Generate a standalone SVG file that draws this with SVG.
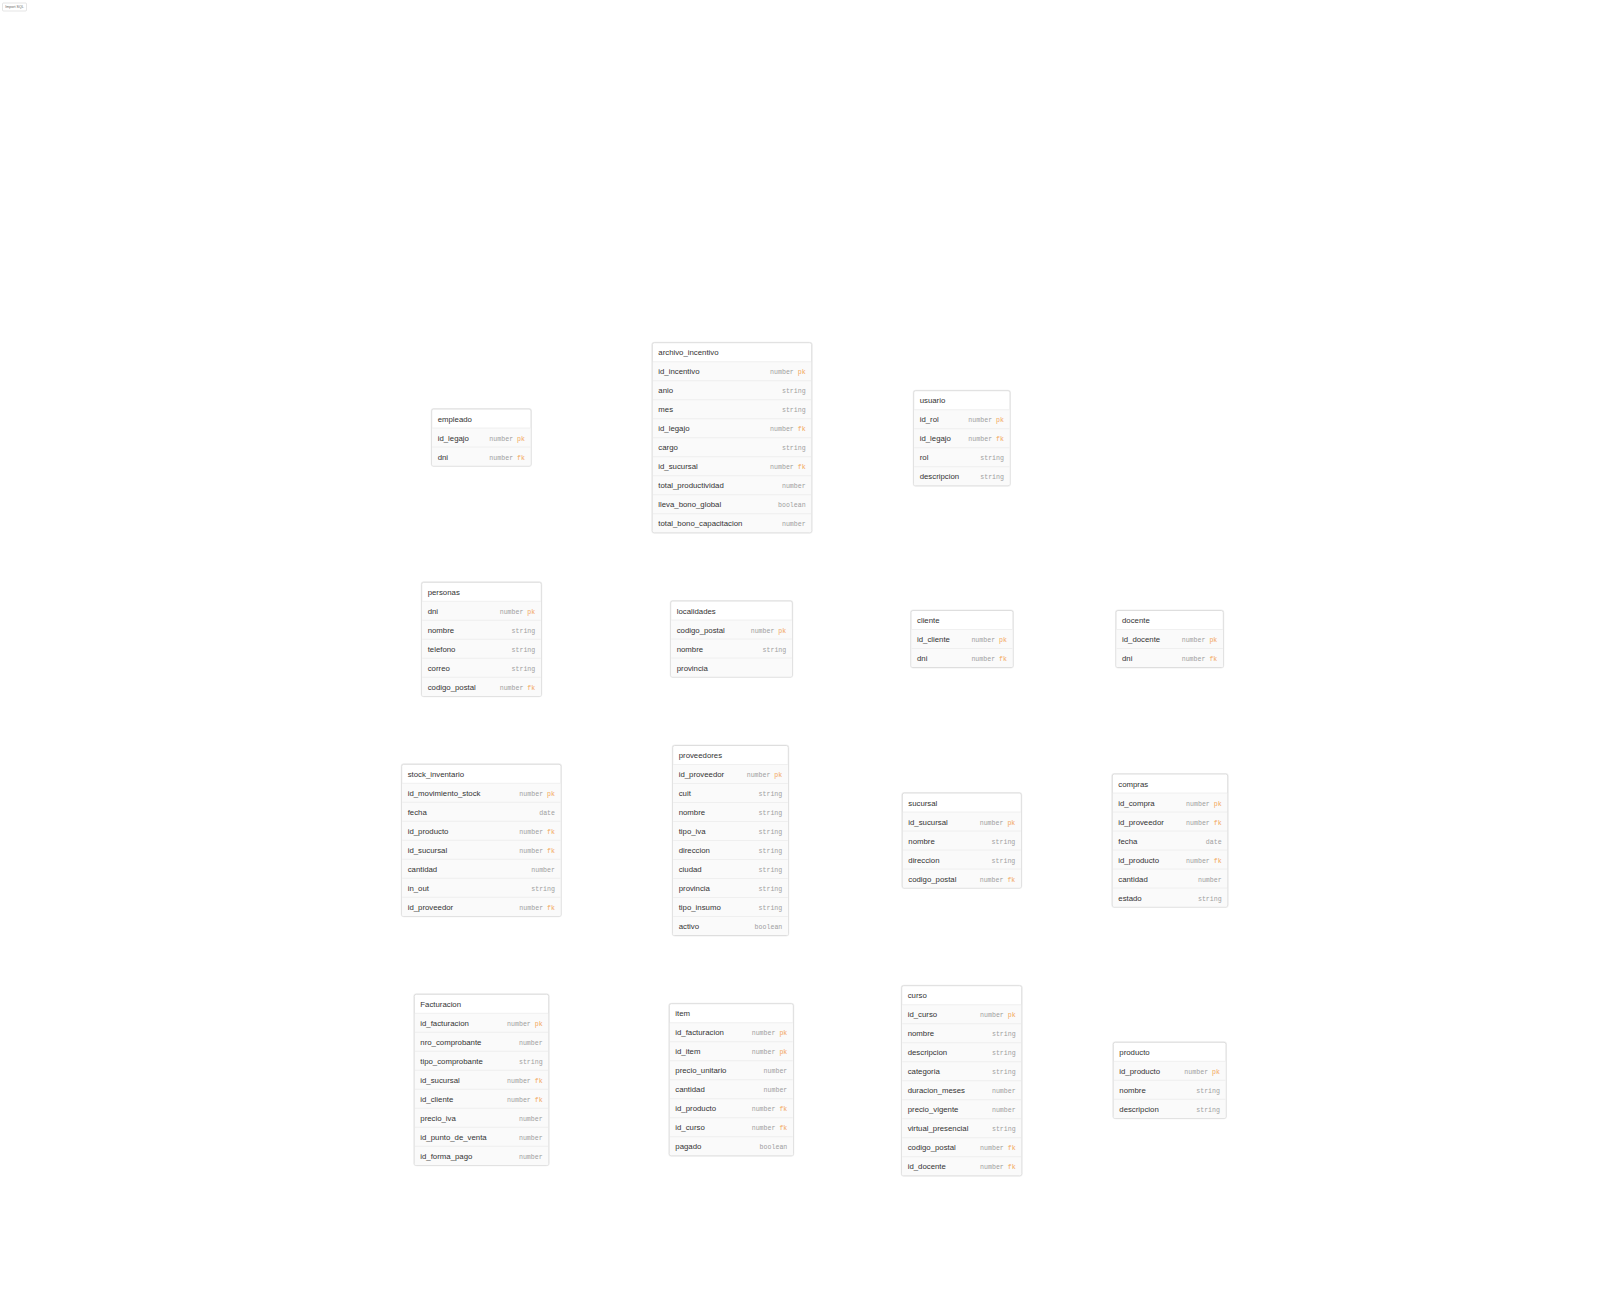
<svg xmlns="http://www.w3.org/2000/svg" width="1600" height="1291" viewBox="0 0 1600 1291">
<style>
.bg{fill:#ffffff}
.box{fill:#ffffff;stroke:#dedede;stroke-width:1}
.shadow{fill:none;stroke:#f0f0f0;stroke-width:2}
.row{fill:#fafafa}
.sep{stroke:#ececec;stroke-width:0.8}
.title{font-family:"Liberation Sans",Arial,sans-serif;font-size:7.8px;fill:#333}
.col{font-family:"Liberation Sans",Arial,sans-serif;font-size:7.8px;fill:#333}
.type{font-family:"Liberation Mono","DejaVu Sans Mono",monospace;font-size:6.6px;fill:#a0a0a0;text-anchor:end}
.k{fill:#f2a65a}
.btn{fill:#ffffff;stroke:#d4d4d4;stroke-width:0.6}
.btnt{font-family:"Liberation Sans",Arial,sans-serif;font-size:3.6px;fill:#666;text-anchor:middle}
</style>
<rect class="bg" x="0" y="0" width="1600" height="1291"/>
<g id="import-button">
<rect class="btn" x="2.5" y="3" width="24" height="8" rx="1"/>
<text class="btnt" x="14.5" y="8.3">Import SQL</text>
</g>
<g id="connectors"></g>

<g id="empleado" transform="translate(431.7,409)">
<rect class="shadow" x="0" y="0" width="99.3" height="57" rx="2"/>
<rect class="box" x="0" y="0" width="99.3" height="57" rx="2"/>
<rect class="row" x="0.5" y="19" width="98.3" height="37.5"/>
<line class="sep" x1="0.5" y1="19" x2="98.8" y2="19"/><line class="sep" x1="0.5" y1="38" x2="98.8" y2="38"/>
<text class="title" x="6" y="12.6">empleado</text>
<text class="col" x="6" y="31.6">id_legajo</text><text class="type" x="93.3" y="31.6">number <tspan class="k">pk</tspan></text>
<text class="col" x="6" y="50.6">dni</text><text class="type" x="93.3" y="50.6">number <tspan class="k">fk</tspan></text>
</g>

<g id="archivo_incentivo" transform="translate(652.3,342.7)">
<rect class="shadow" x="0" y="0" width="159.4" height="190" rx="2"/>
<rect class="box" x="0" y="0" width="159.4" height="190" rx="2"/>
<rect class="row" x="0.5" y="19" width="158.4" height="170.5"/>
<line class="sep" x1="0.5" y1="19" x2="158.9" y2="19"/><line class="sep" x1="0.5" y1="38" x2="158.9" y2="38"/><line class="sep" x1="0.5" y1="57" x2="158.9" y2="57"/><line class="sep" x1="0.5" y1="76" x2="158.9" y2="76"/><line class="sep" x1="0.5" y1="95" x2="158.9" y2="95"/><line class="sep" x1="0.5" y1="114" x2="158.9" y2="114"/><line class="sep" x1="0.5" y1="133" x2="158.9" y2="133"/><line class="sep" x1="0.5" y1="152" x2="158.9" y2="152"/><line class="sep" x1="0.5" y1="171" x2="158.9" y2="171"/>
<text class="title" x="6" y="12.6">archivo_incentivo</text>
<text class="col" x="6" y="31.6">id_incentivo</text><text class="type" x="153.4" y="31.6">number <tspan class="k">pk</tspan></text>
<text class="col" x="6" y="50.6">anio</text><text class="type" x="153.4" y="50.6">string</text>
<text class="col" x="6" y="69.6">mes</text><text class="type" x="153.4" y="69.6">string</text>
<text class="col" x="6" y="88.6">id_legajo</text><text class="type" x="153.4" y="88.6">number <tspan class="k">fk</tspan></text>
<text class="col" x="6" y="107.6">cargo</text><text class="type" x="153.4" y="107.6">string</text>
<text class="col" x="6" y="126.6">id_sucursal</text><text class="type" x="153.4" y="126.6">number <tspan class="k">fk</tspan></text>
<text class="col" x="6" y="145.6">total_productividad</text><text class="type" x="153.4" y="145.6">number</text>
<text class="col" x="6" y="164.6">lleva_bono_global</text><text class="type" x="153.4" y="164.6">boolean</text>
<text class="col" x="6" y="183.6">total_bono_capacitacion</text><text class="type" x="153.4" y="183.6">number</text>
</g>

<g id="usuario" transform="translate(913.7,390.7)">
<rect class="shadow" x="0" y="0" width="96.3" height="95" rx="2"/>
<rect class="box" x="0" y="0" width="96.3" height="95" rx="2"/>
<rect class="row" x="0.5" y="19" width="95.3" height="75.5"/>
<line class="sep" x1="0.5" y1="19" x2="95.8" y2="19"/><line class="sep" x1="0.5" y1="38" x2="95.8" y2="38"/><line class="sep" x1="0.5" y1="57" x2="95.8" y2="57"/><line class="sep" x1="0.5" y1="76" x2="95.8" y2="76"/>
<text class="title" x="6" y="12.6">usuario</text>
<text class="col" x="6" y="31.6">id_rol</text><text class="type" x="90.3" y="31.6">number <tspan class="k">pk</tspan></text>
<text class="col" x="6" y="50.6">id_legajo</text><text class="type" x="90.3" y="50.6">number <tspan class="k">fk</tspan></text>
<text class="col" x="6" y="69.6">rol</text><text class="type" x="90.3" y="69.6">string</text>
<text class="col" x="6" y="88.6">descripcion</text><text class="type" x="90.3" y="88.6">string</text>
</g>

<g id="personas" transform="translate(421.7,582.3)">
<rect class="shadow" x="0" y="0" width="119.6" height="114" rx="2"/>
<rect class="box" x="0" y="0" width="119.6" height="114" rx="2"/>
<rect class="row" x="0.5" y="19" width="118.6" height="94.5"/>
<line class="sep" x1="0.5" y1="19" x2="119.1" y2="19"/><line class="sep" x1="0.5" y1="38" x2="119.1" y2="38"/><line class="sep" x1="0.5" y1="57" x2="119.1" y2="57"/><line class="sep" x1="0.5" y1="76" x2="119.1" y2="76"/><line class="sep" x1="0.5" y1="95" x2="119.1" y2="95"/>
<text class="title" x="6" y="12.6">personas</text>
<text class="col" x="6" y="31.6">dni</text><text class="type" x="113.6" y="31.6">number <tspan class="k">pk</tspan></text>
<text class="col" x="6" y="50.6">nombre</text><text class="type" x="113.6" y="50.6">string</text>
<text class="col" x="6" y="69.6">telefono</text><text class="type" x="113.6" y="69.6">string</text>
<text class="col" x="6" y="88.6">correo</text><text class="type" x="113.6" y="88.6">string</text>
<text class="col" x="6" y="107.6">codigo_postal</text><text class="type" x="113.6" y="107.6">number <tspan class="k">fk</tspan></text>
</g>

<g id="localidades" transform="translate(670.7,601)">
<rect class="shadow" x="0" y="0" width="121.6" height="76" rx="2"/>
<rect class="box" x="0" y="0" width="121.6" height="76" rx="2"/>
<rect class="row" x="0.5" y="19" width="120.6" height="56.5"/>
<line class="sep" x1="0.5" y1="19" x2="121.1" y2="19"/><line class="sep" x1="0.5" y1="38" x2="121.1" y2="38"/><line class="sep" x1="0.5" y1="57" x2="121.1" y2="57"/>
<text class="title" x="6" y="12.6">localidades</text>
<text class="col" x="6" y="31.6">codigo_postal</text><text class="type" x="115.6" y="31.6">number <tspan class="k">pk</tspan></text>
<text class="col" x="6" y="50.6">nombre</text><text class="type" x="115.6" y="50.6">string</text>
<text class="col" x="6" y="69.6">provincia</text>
</g>

<g id="cliente" transform="translate(911,610.5)">
<rect class="shadow" x="0" y="0" width="102" height="57" rx="2"/>
<rect class="box" x="0" y="0" width="102" height="57" rx="2"/>
<rect class="row" x="0.5" y="19" width="101" height="37.5"/>
<line class="sep" x1="0.5" y1="19" x2="101.5" y2="19"/><line class="sep" x1="0.5" y1="38" x2="101.5" y2="38"/>
<text class="title" x="6" y="12.6">cliente</text>
<text class="col" x="6" y="31.6">id_cliente</text><text class="type" x="96" y="31.6">number <tspan class="k">pk</tspan></text>
<text class="col" x="6" y="50.6">dni</text><text class="type" x="96" y="50.6">number <tspan class="k">fk</tspan></text>
</g>

<g id="docente" transform="translate(1116,610.5)">
<rect class="shadow" x="0" y="0" width="107.3" height="57" rx="2"/>
<rect class="box" x="0" y="0" width="107.3" height="57" rx="2"/>
<rect class="row" x="0.5" y="19" width="106.3" height="37.5"/>
<line class="sep" x1="0.5" y1="19" x2="106.8" y2="19"/><line class="sep" x1="0.5" y1="38" x2="106.8" y2="38"/>
<text class="title" x="6" y="12.6">docente</text>
<text class="col" x="6" y="31.6">id_docente</text><text class="type" x="101.3" y="31.6">number <tspan class="k">pk</tspan></text>
<text class="col" x="6" y="50.6">dni</text><text class="type" x="101.3" y="50.6">number <tspan class="k">fk</tspan></text>
</g>

<g id="stock_inventario" transform="translate(401.7,764.3)">
<rect class="shadow" x="0" y="0" width="159.3" height="152" rx="2"/>
<rect class="box" x="0" y="0" width="159.3" height="152" rx="2"/>
<rect class="row" x="0.5" y="19" width="158.3" height="132.5"/>
<line class="sep" x1="0.5" y1="19" x2="158.8" y2="19"/><line class="sep" x1="0.5" y1="38" x2="158.8" y2="38"/><line class="sep" x1="0.5" y1="57" x2="158.8" y2="57"/><line class="sep" x1="0.5" y1="76" x2="158.8" y2="76"/><line class="sep" x1="0.5" y1="95" x2="158.8" y2="95"/><line class="sep" x1="0.5" y1="114" x2="158.8" y2="114"/><line class="sep" x1="0.5" y1="133" x2="158.8" y2="133"/>
<text class="title" x="6" y="12.6">stock_inventario</text>
<text class="col" x="6" y="31.6">id_movimiento_stock</text><text class="type" x="153.3" y="31.6">number <tspan class="k">pk</tspan></text>
<text class="col" x="6" y="50.6">fecha</text><text class="type" x="153.3" y="50.6">date</text>
<text class="col" x="6" y="69.6">id_producto</text><text class="type" x="153.3" y="69.6">number <tspan class="k">fk</tspan></text>
<text class="col" x="6" y="88.6">id_sucursal</text><text class="type" x="153.3" y="88.6">number <tspan class="k">fk</tspan></text>
<text class="col" x="6" y="107.6">cantidad</text><text class="type" x="153.3" y="107.6">number</text>
<text class="col" x="6" y="126.6">in_out</text><text class="type" x="153.3" y="126.6">string</text>
<text class="col" x="6" y="145.6">id_proveedor</text><text class="type" x="153.3" y="145.6">number <tspan class="k">fk</tspan></text>
</g>

<g id="proveedores" transform="translate(672.7,745.5)">
<rect class="shadow" x="0" y="0" width="115.6" height="190" rx="2"/>
<rect class="box" x="0" y="0" width="115.6" height="190" rx="2"/>
<rect class="row" x="0.5" y="19" width="114.6" height="170.5"/>
<line class="sep" x1="0.5" y1="19" x2="115.1" y2="19"/><line class="sep" x1="0.5" y1="38" x2="115.1" y2="38"/><line class="sep" x1="0.5" y1="57" x2="115.1" y2="57"/><line class="sep" x1="0.5" y1="76" x2="115.1" y2="76"/><line class="sep" x1="0.5" y1="95" x2="115.1" y2="95"/><line class="sep" x1="0.5" y1="114" x2="115.1" y2="114"/><line class="sep" x1="0.5" y1="133" x2="115.1" y2="133"/><line class="sep" x1="0.5" y1="152" x2="115.1" y2="152"/><line class="sep" x1="0.5" y1="171" x2="115.1" y2="171"/>
<text class="title" x="6" y="12.6">proveedores</text>
<text class="col" x="6" y="31.6">id_proveedor</text><text class="type" x="109.6" y="31.6">number <tspan class="k">pk</tspan></text>
<text class="col" x="6" y="50.6">cuit</text><text class="type" x="109.6" y="50.6">string</text>
<text class="col" x="6" y="69.6">nombre</text><text class="type" x="109.6" y="69.6">string</text>
<text class="col" x="6" y="88.6">tipo_iva</text><text class="type" x="109.6" y="88.6">string</text>
<text class="col" x="6" y="107.6">direccion</text><text class="type" x="109.6" y="107.6">string</text>
<text class="col" x="6" y="126.6">ciudad</text><text class="type" x="109.6" y="126.6">string</text>
<text class="col" x="6" y="145.6">provincia</text><text class="type" x="109.6" y="145.6">string</text>
<text class="col" x="6" y="164.6">tipo_insumo</text><text class="type" x="109.6" y="164.6">string</text>
<text class="col" x="6" y="183.6">activo</text><text class="type" x="109.6" y="183.6">boolean</text>
</g>

<g id="sucursal" transform="translate(902.3,793)">
<rect class="shadow" x="0" y="0" width="119" height="95" rx="2"/>
<rect class="box" x="0" y="0" width="119" height="95" rx="2"/>
<rect class="row" x="0.5" y="19" width="118" height="75.5"/>
<line class="sep" x1="0.5" y1="19" x2="118.5" y2="19"/><line class="sep" x1="0.5" y1="38" x2="118.5" y2="38"/><line class="sep" x1="0.5" y1="57" x2="118.5" y2="57"/><line class="sep" x1="0.5" y1="76" x2="118.5" y2="76"/>
<text class="title" x="6" y="12.6">sucursal</text>
<text class="col" x="6" y="31.6">id_sucursal</text><text class="type" x="113" y="31.6">number <tspan class="k">pk</tspan></text>
<text class="col" x="6" y="50.6">nombre</text><text class="type" x="113" y="50.6">string</text>
<text class="col" x="6" y="69.6">direccion</text><text class="type" x="113" y="69.6">string</text>
<text class="col" x="6" y="88.6">codigo_postal</text><text class="type" x="113" y="88.6">number <tspan class="k">fk</tspan></text>
</g>

<g id="compras" transform="translate(1112.3,774)">
<rect class="shadow" x="0" y="0" width="115.4" height="133" rx="2"/>
<rect class="box" x="0" y="0" width="115.4" height="133" rx="2"/>
<rect class="row" x="0.5" y="19" width="114.4" height="113.5"/>
<line class="sep" x1="0.5" y1="19" x2="114.9" y2="19"/><line class="sep" x1="0.5" y1="38" x2="114.9" y2="38"/><line class="sep" x1="0.5" y1="57" x2="114.9" y2="57"/><line class="sep" x1="0.5" y1="76" x2="114.9" y2="76"/><line class="sep" x1="0.5" y1="95" x2="114.9" y2="95"/><line class="sep" x1="0.5" y1="114" x2="114.9" y2="114"/>
<text class="title" x="6" y="12.6">compras</text>
<text class="col" x="6" y="31.6">id_compra</text><text class="type" x="109.4" y="31.6">number <tspan class="k">pk</tspan></text>
<text class="col" x="6" y="50.6">id_proveedor</text><text class="type" x="109.4" y="50.6">number <tspan class="k">fk</tspan></text>
<text class="col" x="6" y="69.6">fecha</text><text class="type" x="109.4" y="69.6">date</text>
<text class="col" x="6" y="88.6">id_producto</text><text class="type" x="109.4" y="88.6">number <tspan class="k">fk</tspan></text>
<text class="col" x="6" y="107.6">cantidad</text><text class="type" x="109.4" y="107.6">number</text>
<text class="col" x="6" y="126.6">estado</text><text class="type" x="109.4" y="126.6">string</text>
</g>

<g id="Facturacion" transform="translate(414.3,994.3)">
<rect class="shadow" x="0" y="0" width="134.4" height="171" rx="2"/>
<rect class="box" x="0" y="0" width="134.4" height="171" rx="2"/>
<rect class="row" x="0.5" y="19" width="133.4" height="151.5"/>
<line class="sep" x1="0.5" y1="19" x2="133.9" y2="19"/><line class="sep" x1="0.5" y1="38" x2="133.9" y2="38"/><line class="sep" x1="0.5" y1="57" x2="133.9" y2="57"/><line class="sep" x1="0.5" y1="76" x2="133.9" y2="76"/><line class="sep" x1="0.5" y1="95" x2="133.9" y2="95"/><line class="sep" x1="0.5" y1="114" x2="133.9" y2="114"/><line class="sep" x1="0.5" y1="133" x2="133.9" y2="133"/><line class="sep" x1="0.5" y1="152" x2="133.9" y2="152"/>
<text class="title" x="6" y="12.6">Facturacion</text>
<text class="col" x="6" y="31.6">id_facturacion</text><text class="type" x="128.4" y="31.6">number <tspan class="k">pk</tspan></text>
<text class="col" x="6" y="50.6">nro_comprobante</text><text class="type" x="128.4" y="50.6">number</text>
<text class="col" x="6" y="69.6">tipo_comprobante</text><text class="type" x="128.4" y="69.6">string</text>
<text class="col" x="6" y="88.6">id_sucursal</text><text class="type" x="128.4" y="88.6">number <tspan class="k">fk</tspan></text>
<text class="col" x="6" y="107.6">id_cliente</text><text class="type" x="128.4" y="107.6">number <tspan class="k">fk</tspan></text>
<text class="col" x="6" y="126.6">precio_iva</text><text class="type" x="128.4" y="126.6">number</text>
<text class="col" x="6" y="145.6">id_punto_de_venta</text><text class="type" x="128.4" y="145.6">number</text>
<text class="col" x="6" y="164.6">id_forma_pago</text><text class="type" x="128.4" y="164.6">number</text>
</g>

<g id="item" transform="translate(669.3,1003.7)">
<rect class="shadow" x="0" y="0" width="124" height="152" rx="2"/>
<rect class="box" x="0" y="0" width="124" height="152" rx="2"/>
<rect class="row" x="0.5" y="19" width="123" height="132.5"/>
<line class="sep" x1="0.5" y1="19" x2="123.5" y2="19"/><line class="sep" x1="0.5" y1="38" x2="123.5" y2="38"/><line class="sep" x1="0.5" y1="57" x2="123.5" y2="57"/><line class="sep" x1="0.5" y1="76" x2="123.5" y2="76"/><line class="sep" x1="0.5" y1="95" x2="123.5" y2="95"/><line class="sep" x1="0.5" y1="114" x2="123.5" y2="114"/><line class="sep" x1="0.5" y1="133" x2="123.5" y2="133"/>
<text class="title" x="6" y="12.6">item</text>
<text class="col" x="6" y="31.6">id_facturacion</text><text class="type" x="118" y="31.6">number <tspan class="k">pk</tspan></text>
<text class="col" x="6" y="50.6">id_item</text><text class="type" x="118" y="50.6">number <tspan class="k">pk</tspan></text>
<text class="col" x="6" y="69.6">precio_unitario</text><text class="type" x="118" y="69.6">number</text>
<text class="col" x="6" y="88.6">cantidad</text><text class="type" x="118" y="88.6">number</text>
<text class="col" x="6" y="107.6">id_producto</text><text class="type" x="118" y="107.6">number <tspan class="k">fk</tspan></text>
<text class="col" x="6" y="126.6">id_curso</text><text class="type" x="118" y="126.6">number <tspan class="k">fk</tspan></text>
<text class="col" x="6" y="145.6">pagado</text><text class="type" x="118" y="145.6">boolean</text>
</g>

<g id="curso" transform="translate(901.7,985.7)">
<rect class="shadow" x="0" y="0" width="120" height="190" rx="2"/>
<rect class="box" x="0" y="0" width="120" height="190" rx="2"/>
<rect class="row" x="0.5" y="19" width="119" height="170.5"/>
<line class="sep" x1="0.5" y1="19" x2="119.5" y2="19"/><line class="sep" x1="0.5" y1="38" x2="119.5" y2="38"/><line class="sep" x1="0.5" y1="57" x2="119.5" y2="57"/><line class="sep" x1="0.5" y1="76" x2="119.5" y2="76"/><line class="sep" x1="0.5" y1="95" x2="119.5" y2="95"/><line class="sep" x1="0.5" y1="114" x2="119.5" y2="114"/><line class="sep" x1="0.5" y1="133" x2="119.5" y2="133"/><line class="sep" x1="0.5" y1="152" x2="119.5" y2="152"/><line class="sep" x1="0.5" y1="171" x2="119.5" y2="171"/>
<text class="title" x="6" y="12.6">curso</text>
<text class="col" x="6" y="31.6">id_curso</text><text class="type" x="114" y="31.6">number <tspan class="k">pk</tspan></text>
<text class="col" x="6" y="50.6">nombre</text><text class="type" x="114" y="50.6">string</text>
<text class="col" x="6" y="69.6">descripcion</text><text class="type" x="114" y="69.6">string</text>
<text class="col" x="6" y="88.6">categoria</text><text class="type" x="114" y="88.6">string</text>
<text class="col" x="6" y="107.6">duracion_meses</text><text class="type" x="114" y="107.6">number</text>
<text class="col" x="6" y="126.6">precio_vigente</text><text class="type" x="114" y="126.6">number</text>
<text class="col" x="6" y="145.6">virtual_presencial</text><text class="type" x="114" y="145.6">string</text>
<text class="col" x="6" y="164.6">codigo_postal</text><text class="type" x="114" y="164.6">number <tspan class="k">fk</tspan></text>
<text class="col" x="6" y="183.6">id_docente</text><text class="type" x="114" y="183.6">number <tspan class="k">fk</tspan></text>
</g>

<g id="producto" transform="translate(1113.3,1042.3)">
<rect class="shadow" x="0" y="0" width="112.7" height="76" rx="2"/>
<rect class="box" x="0" y="0" width="112.7" height="76" rx="2"/>
<rect class="row" x="0.5" y="19" width="111.7" height="56.5"/>
<line class="sep" x1="0.5" y1="19" x2="112.2" y2="19"/><line class="sep" x1="0.5" y1="38" x2="112.2" y2="38"/><line class="sep" x1="0.5" y1="57" x2="112.2" y2="57"/>
<text class="title" x="6" y="12.6">producto</text>
<text class="col" x="6" y="31.6">id_producto</text><text class="type" x="106.7" y="31.6">number <tspan class="k">pk</tspan></text>
<text class="col" x="6" y="50.6">nombre</text><text class="type" x="106.7" y="50.6">string</text>
<text class="col" x="6" y="69.6">descripcion</text><text class="type" x="106.7" y="69.6">string</text>
</g>
</svg>
